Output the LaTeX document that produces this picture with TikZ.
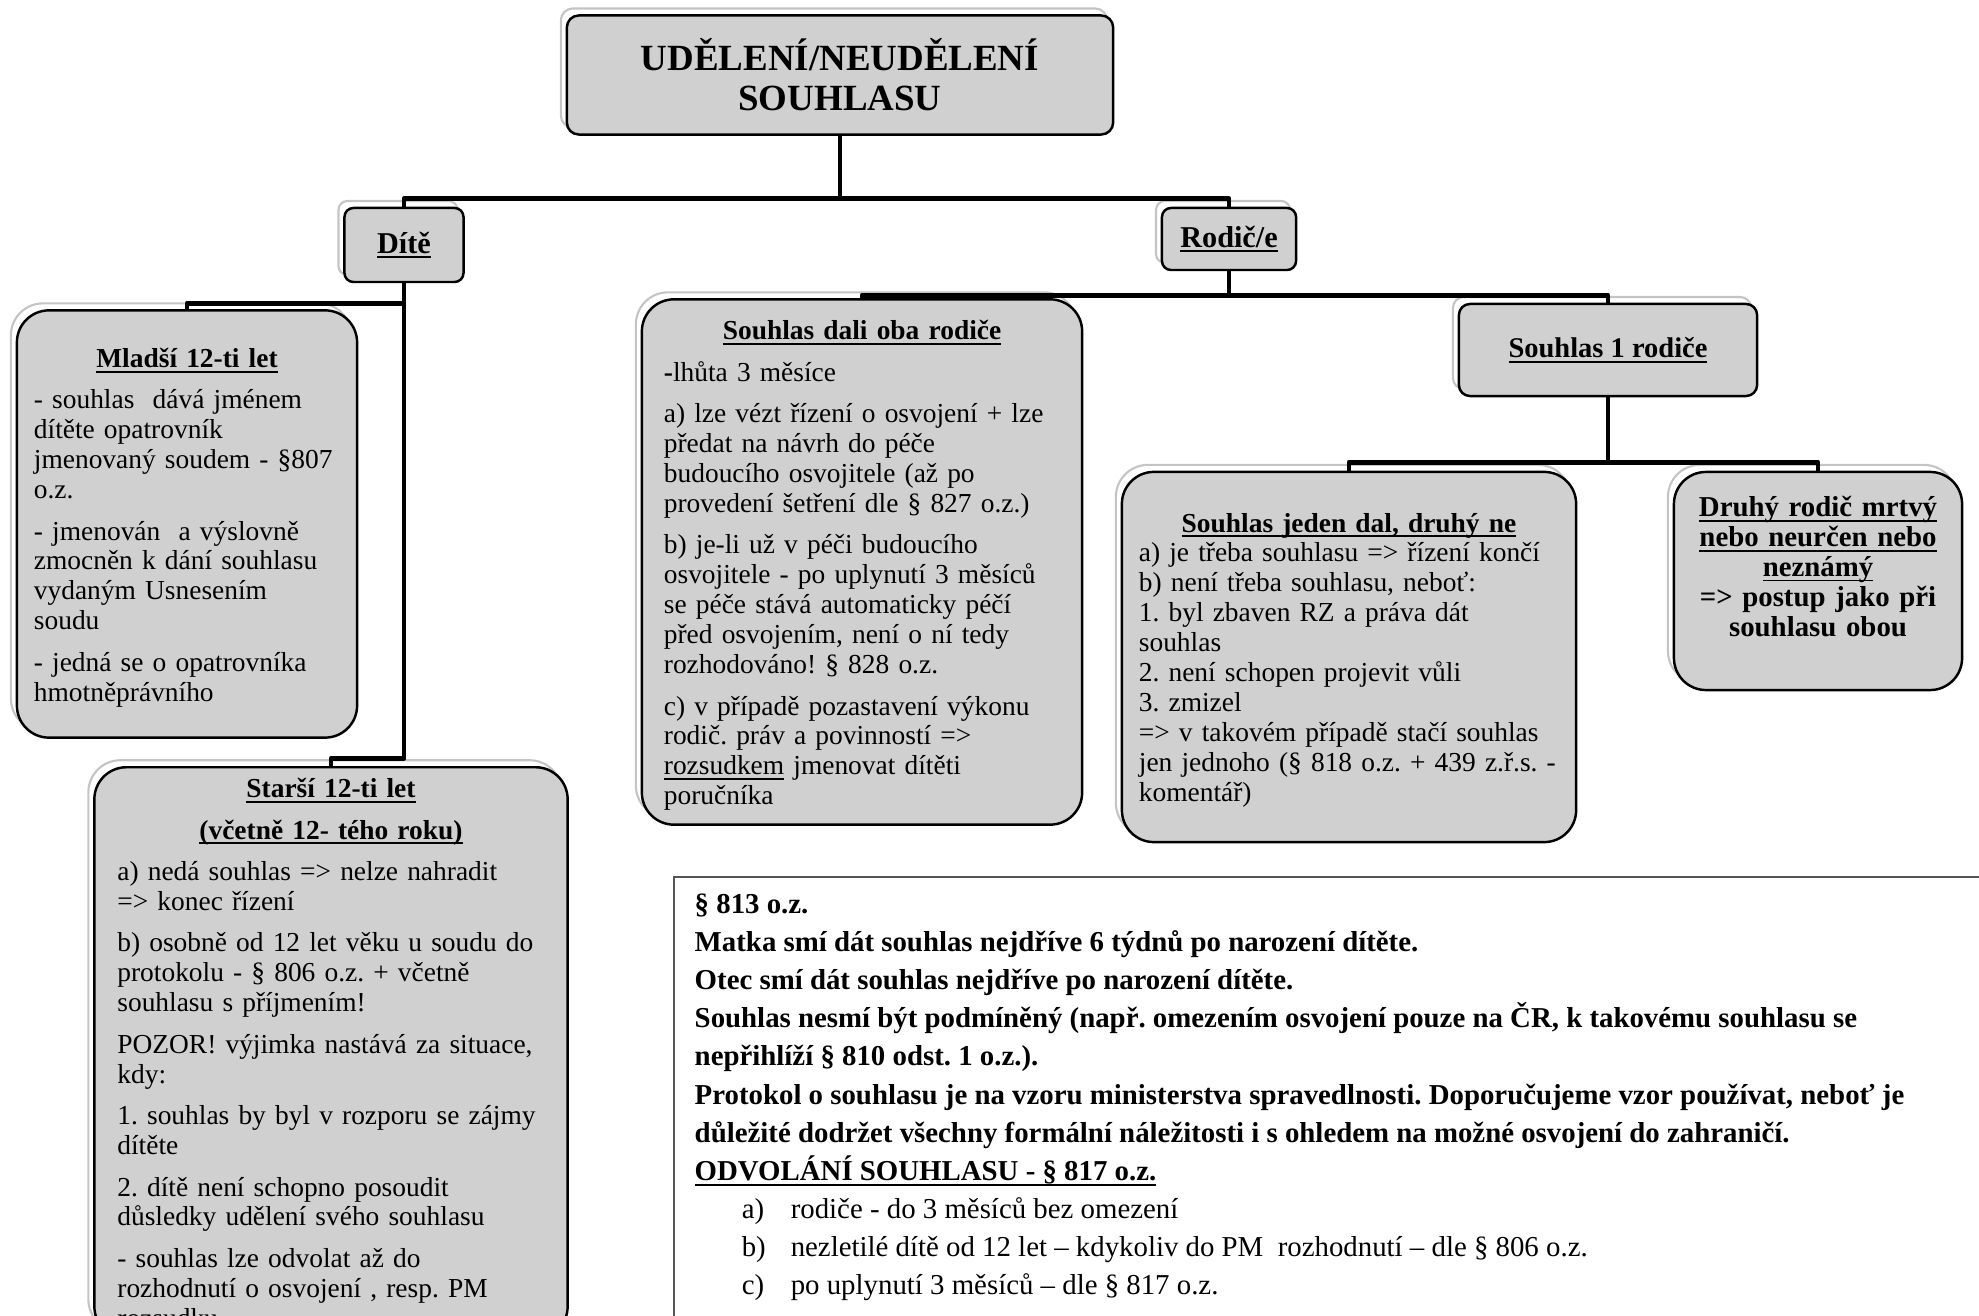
\documentclass[tikz,border=0pt]{standalone}
\usepackage{fontspec}
\setmainfont{Liberation Serif}
\definecolor{boxgray}{RGB}{208,208,208}
\definecolor{glowgray}{RGB}{196,196,196}
\definecolor{notegray}{RGB}{85,85,85}
\newsavebox{\ulbox}
\newcommand{\uln}[1]{\leavevmode\sbox{\ulbox}{#1}\rlap{\rule[-1.5pt]{\wd\ulbox}{0.55pt}}\usebox{\ulbox}}
\newcommand{\ctr}[1]{\leavevmode\hspace*{\fill}#1\hspace*{\fill}\mbox{}}
\newcommand{\pgap}{\\[3.3pt]}
\newcommand{\litem}[2]{\hspace*{0.47cm}\makebox[0.49cm][l]{\mdseries #1}{\mdseries #2}}
\tikzset{
  glow/.style={preaction={draw=glowgray,fill=white,line width=0.6pt,transform canvas={shift={(-0.06cm,0.07cm)}}}},
  bigbox/.style={glow,draw=black,line width=0.7pt,fill=boxgray,rounded corners=0.32cm,align=left,
    font=\frenchspacing\fontsize{7.8}{8.5}\selectfont},
  smallbox/.style={glow,draw=black,line width=0.7pt,fill=boxgray,rounded corners=0.09cm,align=center,
    font=\bfseries\fontsize{8.6}{9.2}\selectfont},
  conn/.style={line width=1.4pt,line join=round},
}
\begin{document}
\frenchspacing
\begin{tikzpicture}[x=0.01cm,y=-0.01cm]
  \useasboundingbox (0,0) rectangle (1979,1316);
  \clip (0,0) rectangle (1979,1316);

  \node[smallbox,rounded corners=0.12cm,minimum width=5.46cm,minimum height=1.19cm,
    font=\bfseries\fontsize{10.5}{11.4}\selectfont] (top) at (840,75) {UDĚLENÍ/NEUDĚLENÍ\\SOUHLASU};
  \node[smallbox,minimum width=1.19cm,minimum height=0.74cm] (dite) at (404,245) {\uln{Dítě}};
  \node[smallbox,minimum width=1.34cm,minimum height=0.62cm] (rodic) at (1229,239) {\uln{Rodič/e}};
  \node[smallbox,rounded corners=0.11cm,minimum width=2.98cm,minimum height=0.92cm,
    font=\bfseries\fontsize{8.1}{8.6}\selectfont] (s1) at (1608,350) {\uln{Souhlas 1 rodiče}};

  \node[bigbox,minimum width=3.4cm,minimum height=4.27cm,text width=3.06cm,inner xsep=0.17cm] (mladsi) at (187,524) {%
    \ctr{\rule{0pt}{7.5pt}\textbf{\uln{Mladší 12-ti let}}}\pgap
    - souhlas\ \ dává jménem\\
    dítěte opatrovník\\
    jmenovaný soudem - §807\\
    o.z.\pgap
    - jmenován\ \ a výslovně\\
    zmocněn k dání souhlasu\\
    vydaným Usnesením\\
    soudu\pgap
    - jedná se o opatrovníka\\
    hmotněprávního};

  \node[bigbox,anchor=north,minimum width=4.73cm,text width=4.27cm,inner xsep=0.23cm,inner ysep=0.11cm] (starsi) at (331,766) {%
    \ctr{\textbf{\uln{Starší 12-ti let}}}\pgap
    \ctr{\textbf{\uln{(včetně 12- tého roku)}}}\pgap
    a) nedá souhlas => nelze nahradit\\
    => konec řízení\pgap
    b) osobně od 12 let věku u soudu do\\
    protokolu - § 806 o.z. + včetně\\
    souhlasu s příjmením!\pgap
    POZOR! výjimka nastává za situace,\\
    kdy:\pgap
    1. souhlas by byl v rozporu se zájmy\\
    dítěte\pgap
    2. dítě není schopno posoudit\\
    důsledky udělení svého souhlasu\pgap
    - souhlas lze odvolat až do\\
    rozhodnutí o osvojení , resp. PM\\
    rozsudku};

  \node[bigbox,minimum width=4.4cm,minimum height=5.25cm,text width=3.96cm,inner xsep=0.22cm] (oba) at (862,562) {%
    \ctr{\rule{0pt}{7.5pt}\textbf{\uln{Souhlas dali oba rodiče}}}\pgap
    \textbf{-}lhůta 3 měsíce\pgap
    a) lze vézt řízení o osvojení + lze\\
    předat na návrh do péče\\
    budoucího osvojitele (až po\\
    provedení šetření dle § 827 o.z.)\pgap
    b) je-li už v péči budoucího\\
    osvojitele - po uplynutí 3 měsíců\\
    se péče stává automaticky péčí\\
    před osvojením, není o ní tedy\\
    rozhodováno! § 828 o.z.\pgap
    c) v případě pozastavení výkonu\\
    rodič. práv a povinností =>\\
    \uln{rozsudkem} jmenovat dítěti\\
    poručníka};

  \node[bigbox,minimum width=4.54cm,minimum height=3.7cm,text width=4.2cm,inner xsep=0.17cm] (jeden) at (1349,657) {%
    \ctr{\rule{0pt}{7.1pt}\textbf{\uln{Souhlas jeden dal, druhý ne}}}\\
    a) je třeba souhlasu => řízení končí\\
    b) není třeba souhlasu, neboť:\\
    1. byl zbaven RZ a práva dát\\
    souhlas\\
    2. není schopen projevit vůli\\
    3. zmizel\\
    => v takovém případě stačí souhlas\\
    jen jednoho (§ 818 o.z. + 439 z.ř.s. -\\
    komentář)};

  \node[bigbox,align=center,minimum width=2.88cm,minimum height=2.18cm,text width=2.6cm,inner xsep=0.14cm,
    font=\bfseries\fontsize{8.2}{8.5}\selectfont] (druhy) at (1818,581) {%
    \uln{Druhý rodič mrtvý}\\
    \uln{nebo neurčen nebo}\\
    \uln{neznámý}\\
    => postup jako při\\
    souhlasu obou\\[0pt]\mbox{}};

  \draw[conn] (top.south) -- ++(0,63) coordinate (j0);
  \draw[conn] (dite.north) |- (j0) -| (rodic.north);
  \draw[conn] (dite.south) ++(0,20) -| (mladsi.north);
  \draw[conn] (dite.south) -- ++(0,475) -| (starsi.north);
  \draw[conn] (rodic.south) -- ++(0,24) coordinate (j1);
  \draw[conn] (oba.north) |- (j1) -| (s1.north);
  \draw[conn] (s1.south) -- ++(0,65) coordinate (j2);
  \draw[conn] (jeden.north) |- (j2) -| (druhy.north);

  \node[draw=notegray,line width=0.55pt,minimum width=14cm,minimum height=5cm,anchor=north west] (note) at (673,876) {};
  \node[anchor=north west,align=left,inner xsep=0.21cm,inner ysep=0.17cm,
    font=\bfseries\fontsize{8.2}{10.85}\selectfont] (notetext) at (note.north west) {%
    § 813 o.z.\\
    Matka smí dát souhlas nejdříve 6 týdnů po narození dítěte.\\
    Otec smí dát souhlas nejdříve po narození dítěte.\\
    Souhlas nesmí být podmíněný (např. omezením osvojení pouze na ČR, k takovému souhlasu se\\
    nepřihlíží § 810 odst. 1 o.z.).\\
    Protokol o souhlasu je na vzoru ministerstva spravedlnosti. Doporučujeme vzor používat, neboť je\\
    důležité dodržet všechny formální náležitosti i s ohledem na možné osvojení do zahraničí.\\
    \uln{ODVOLÁNÍ SOUHLASU - § 817 o.z.}\\
    \litem{a)}{rodiče - do 3 měsíců bez omezení}\\
    \litem{b)}{nezletilé dítě od 12 let – kdykoliv do PM\ \ rozhodnutí – dle § 806 o.z.}\\
    \litem{c)}{po uplynutí 3 měsíců – dle § 817 o.z.}};
\end{tikzpicture}
\end{document}
